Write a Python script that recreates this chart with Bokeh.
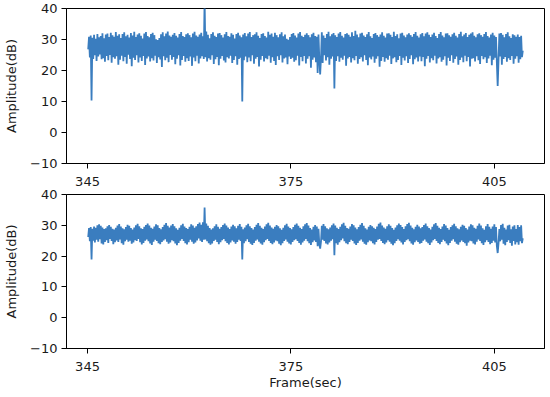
import numpy as np
from bokeh.plotting import figure
from bokeh.layouts import column
from bokeh.models import FixedTicker, CustomJSTickFormatter, Range1d
from bokeh.embed import file_html
from bokeh.resources import INLINE

# time span of the recording (seconds)
t_start, t_end = 345.1, 409.2

# upper panel amplitude samples (dB)
amp_top = [
    26.8, 30.9, 24.2, 31.3, 10.3, 30.6, 23.7, 31.5, 24.9, 30.2, 23.1, 31.8, 24.5, 30.7, 25.2, 31.1, 23.6, 32.0, 24.0, 30.4,
    22.8, 31.6, 24.7, 31.9, 23.3, 30.8, 25.0, 32.2, 22.5, 31.4, 24.3, 30.9, 23.8, 32.4, 24.6, 31.2, 21.9, 31.7, 23.5, 30.5,
    24.8, 31.8, 23.0, 32.3, 24.4, 31.0, 22.2, 31.5, 25.1, 30.6, 23.7, 32.1, 21.4, 31.3, 24.1, 32.5, 23.4, 30.8, 24.9, 31.6,
    22.6, 32.0, 24.2, 31.2, 23.1, 30.3, 24.7, 31.9, 21.8, 32.4, 23.9, 31.1, 24.5, 30.7, 22.9, 31.8, 24.0, 32.2, 23.2, 31.4,
    24.8, 30.1, 22.4, 29.8, 24.3, 30.5, 23.6, 31.7, 21.1, 32.3, 24.6, 31.0, 23.3, 31.9, 24.1, 32.6, 22.7, 31.3, 25.0, 30.9,
    23.5, 31.5, 24.4, 32.1, 22.0, 31.2, 23.8, 30.6, 24.9, 31.8, 21.6, 32.4, 23.4, 31.1, 24.7, 30.8, 22.8, 31.7, 24.0, 32.0,
    23.1, 31.4, 24.5, 30.7, 21.5, 31.9, 24.2, 32.5, 23.0, 31.3, 24.8, 30.9, 22.3, 31.6, 23.9, 32.2, 24.6, 31.0, 23.7, 43.0,
    24.3, 32.6, 22.9, 31.5, 24.0, 30.4, 23.5, 31.8, 24.9, 32.3, 22.1, 31.2, 23.6, 30.8, 24.4, 31.9, 21.7, 32.1, 23.8, 31.4,
    24.7, 30.6, 23.2, 31.7, 22.6, 32.4, 24.3, 31.1, 23.9, 30.9, 24.8, 32.0, 22.4, 31.5, 23.4, 30.3, 24.6, 31.8, 21.9, 32.2,
    23.7, 31.3, 24.1, 30.7, 10.0, 31.6, 23.3, 32.1, 24.5, 31.0, 22.7, 31.9, 24.2, 32.4, 23.0, 30.8, 24.9, 31.4, 22.2, 31.7,
    23.8, 32.3, 24.4, 31.2, 21.3, 30.5, 23.5, 31.8, 24.7, 32.0, 22.9, 31.1, 24.0, 30.6, 23.6, 32.5, 24.8, 31.5, 22.5, 31.9,
    24.3, 30.9, 23.1, 32.2, 21.8, 31.4, 24.6, 30.7, 23.4, 31.7, 24.9, 32.3, 22.6, 31.0, 23.9, 31.6, 24.2, 30.2, 22.0, 29.9,
    24.5, 30.8, 23.7, 31.8, 24.1, 32.1, 22.8, 31.3, 23.3, 30.6, 24.8, 31.9, 21.6, 32.4, 24.4, 31.2, 23.0, 30.8, 24.7, 31.5,
    22.3, 32.0, 23.8, 31.4, 24.6, 30.7, 20.9, 31.7, 23.5, 32.2, 24.2, 31.1, 22.7, 30.9, 19.2, 31.6, 23.6, 18.7, 24.0, 32.3,
    22.4, 31.3, 24.9, 30.5, 23.2, 31.8, 24.3, 32.5, 21.9, 31.0, 23.8, 31.7, 24.5, 32.1, 14.2, 31.4, 23.1, 30.8, 24.6, 31.9,
    22.8, 32.4, 24.1, 31.2, 23.5, 30.6, 24.8, 31.8, 21.5, 32.0, 23.9, 31.5, 24.4, 30.9, 22.6, 32.3, 24.0, 31.1, 23.3, 32.8,
    24.7, 31.6, 22.2, 30.7, 23.7, 31.9, 24.3, 32.2, 22.9, 31.3, 24.9, 30.8, 23.4, 31.7, 21.7, 32.4, 24.2, 31.0, 23.6, 30.5,
    24.5, 31.8, 22.5, 32.1, 23.8, 31.4, 24.6, 30.9, 21.2, 31.6, 23.1, 32.3, 24.4, 31.2, 22.8, 30.6, 24.0, 31.9, 23.5, 32.0,
    24.8, 31.5, 22.1, 30.8, 23.9, 32.5, 24.3, 31.1, 22.7, 31.7, 23.4, 30.4, 24.7, 31.9, 21.8, 32.2, 24.1, 31.3, 23.2, 30.7,
    24.6, 31.6, 22.4, 32.0, 23.7, 31.4, 24.9, 30.9, 22.0, 31.8, 23.6, 32.4, 24.2, 31.2, 22.9, 30.6, 24.5, 31.7, 23.0, 32.1,
    24.4, 31.0, 21.4, 31.9, 23.8, 32.3, 24.7, 31.5, 22.6, 30.8, 24.0, 31.6, 23.3, 32.2, 24.8, 31.1, 22.3, 30.5, 23.9, 31.8,
    24.3, 32.4, 22.8, 31.3, 23.5, 30.7, 24.6, 31.9, 21.6, 32.0, 24.1, 31.4, 23.1, 30.9, 24.9, 31.7, 22.5, 32.2, 23.7, 31.2,
    24.5, 30.6, 21.9, 31.8, 23.4, 32.5, 24.2, 31.0, 22.7, 31.6, 24.8, 32.1, 23.0, 30.8, 24.4, 31.5, 21.3, 31.9, 23.8, 32.3,
    24.0, 31.2, 22.9, 30.7, 24.6, 31.7, 23.3, 32.0, 22.1, 31.4, 24.7, 30.9, 23.6, 31.8, 24.3, 32.4, 22.4, 31.1, 23.9, 30.6,
    24.8, 31.6, 21.7, 32.2, 23.5, 31.3, 24.1, 30.8, 22.6, 15.0, 23.2, 31.9, 24.5, 32.1, 21.9, 31.5, 23.7, 30.7, 24.4, 31.8,
    22.8, 32.3, 24.0, 31.0, 23.4, 30.5, 24.7, 31.7, 22.2, 31.4, 23.8, 30.9, 24.6, 31.6, 22.5, 30.8, 23.6, 31.2, 24.3, 26.4,
]

# lower panel amplitude samples (dB)
amp_bottom = [
    26.2, 29.1, 24.8, 29.4, 18.9, 28.9, 25.0, 29.6, 24.4, 29.2, 25.3, 30.0, 24.7, 30.3, 25.5, 29.8, 24.1, 29.3, 23.8, 28.8,
    24.6, 29.0, 25.2, 29.7, 24.3, 30.1, 25.6, 29.5, 24.9, 28.9, 23.9, 28.6, 24.5, 29.2, 25.1, 29.9, 24.6, 30.4, 25.4, 29.6,
    24.2, 29.0, 23.7, 28.7, 24.8, 29.4, 25.3, 30.2, 24.7, 29.8, 25.0, 29.1, 24.0, 28.6, 24.4, 29.3, 25.2, 30.0, 24.9, 30.5,
    25.6, 29.7, 24.5, 29.0, 23.8, 28.8, 24.3, 29.5, 25.0, 30.1, 25.4, 30.6, 24.8, 29.9, 24.1, 29.2, 23.6, 28.9, 24.7, 29.6,
    25.3, 30.3, 24.9, 30.0, 24.2, 29.1, 23.9, 28.7, 24.6, 29.4, 25.1, 30.2, 25.5, 30.7, 24.7, 29.8, 24.0, 29.3, 24.4, 29.9,
    25.2, 30.4, 24.8, 29.7, 24.1, 29.0, 23.5, 28.5, 24.3, 29.2, 25.0, 30.0, 25.6, 30.5, 24.9, 29.6, 24.2, 29.1, 23.8, 28.8,
    24.5, 29.5, 25.3, 30.3, 24.7, 29.9, 24.0, 29.2, 24.4, 29.7, 25.1, 30.4, 25.7, 30.9, 25.0, 30.2, 24.6, 31.0, 25.3, 35.8,
    25.4, 30.6, 24.8, 29.8, 24.2, 29.1, 23.7, 28.6, 24.1, 29.0, 24.9, 29.7, 25.3, 30.3, 24.6, 29.5, 23.9, 28.9, 24.5, 29.4,
    25.2, 30.1, 25.6, 30.6, 24.8, 29.9, 24.3, 29.3, 23.8, 28.8, 24.4, 29.6, 25.1, 30.2, 24.7, 29.7, 24.0, 29.0, 24.6, 29.8,
    25.3, 30.4, 24.9, 29.5, 18.9, 28.7, 24.2, 29.3, 24.8, 30.0, 25.5, 30.5, 24.6, 29.7, 24.0, 29.1, 23.6, 28.6, 24.3, 29.4,
    25.0, 30.2, 25.4, 30.7, 24.7, 29.8, 24.1, 29.2, 23.7, 28.8, 24.5, 29.6, 25.2, 30.3, 25.6, 30.8, 24.9, 29.9, 24.3, 29.3,
    23.9, 28.9, 24.4, 29.5, 25.1, 30.1, 24.8, 29.7, 24.0, 29.0, 23.5, 28.5, 24.2, 29.2, 24.9, 30.0, 25.4, 30.5, 24.7, 29.6,
    24.1, 29.1, 23.8, 28.7, 24.6, 29.4, 25.2, 30.2, 25.5, 30.6, 24.9, 29.8, 24.3, 29.2, 23.7, 28.8, 24.4, 29.7, 25.0, 30.3,
    25.6, 30.7, 24.8, 29.9, 24.2, 29.1, 23.6, 28.6, 24.5, 29.5, 25.1, 30.1, 24.6, 29.6, 23.2, 28.9, 24.0, 22.4, 24.7, 29.8,
    25.3, 30.4, 24.9, 29.7, 24.1, 29.0, 23.8, 28.7, 24.4, 29.3, 25.0, 30.0, 25.5, 30.6, 20.3, 29.9, 24.2, 29.2, 23.7, 28.8,
    24.5, 29.5, 25.2, 30.3, 25.7, 30.8, 24.8, 29.8, 24.2, 29.1, 23.9, 28.9, 24.6, 29.6, 25.3, 30.4, 24.9, 30.0, 24.1, 29.3,
    23.6, 28.7, 24.3, 29.4, 25.0, 30.2, 25.4, 30.7, 24.7, 29.8, 24.0, 29.0, 23.7, 28.6, 24.5, 29.5, 25.1, 30.1, 24.8, 29.7,
    24.2, 29.2, 23.8, 28.8, 24.6, 29.6, 25.3, 30.5, 25.6, 30.9, 24.9, 29.9, 24.3, 29.3, 23.9, 28.9, 24.4, 29.7, 25.2, 30.3,
    24.7, 29.8, 24.0, 29.1, 23.5, 28.5, 24.2, 29.3, 24.9, 30.0, 25.5, 30.6, 25.0, 30.1, 24.4, 29.4, 23.8, 28.8, 24.6, 29.7,
    25.2, 30.4, 25.5, 30.8, 24.8, 29.9, 24.1, 29.2, 23.7, 28.7, 24.5, 29.5, 25.1, 30.2, 24.6, 29.6, 24.0, 29.0, 24.3, 29.4,
    25.0, 30.1, 25.4, 30.6, 24.7, 29.7, 24.2, 29.1, 23.6, 28.6, 24.4, 29.5, 25.2, 30.3, 25.6, 30.7, 24.9, 29.8, 24.3, 29.2,
    23.9, 28.8, 24.6, 29.6, 25.3, 30.4, 24.8, 29.9, 24.1, 29.1, 23.5, 28.5, 24.3, 29.4, 25.0, 30.0, 25.5, 30.5, 24.7, 29.7,
    24.0, 29.0, 23.7, 28.7, 24.5, 29.5, 25.1, 30.2, 24.6, 29.8, 24.2, 29.1, 23.4, 28.6, 24.4, 29.6, 25.0, 30.3, 24.8, 30.0,
    24.1, 29.2, 23.8, 28.9, 24.7, 29.8, 25.4, 30.6, 24.9, 29.9, 24.2, 29.0, 23.6, 28.5, 24.5, 29.7, 25.2, 30.4, 24.6, 29.5,
    23.9, 28.9, 24.3, 29.6, 25.0, 30.3, 24.4, 29.4, 23.3, 21.0, 24.1, 28.8, 24.8, 30.1, 25.3, 30.5, 24.0, 29.2, 23.5, 28.6,
    24.6, 29.9, 25.2, 30.2, 24.3, 28.7, 23.4, 29.6, 24.9, 30.0, 23.8, 28.8, 24.5, 30.1, 23.7, 29.4, 24.8, 30.0, 24.2, 25.8,
]

x_ticks = [345, 375, 405]
y_ticks = [-10, 0, 10, 20, 30, 40]

LINE_COLOR = "#3a7dbf"
FONT = "DejaVu Sans"
TEXT = "#1a1a1a"


def make_fig(values, height, border_top, border_bottom, xlabel):
    t = np.linspace(t_start, t_end, len(values))
    p = figure(width=550, height=height, output_backend="svg", toolbar_location=None,
               x_range=Range1d(341.9, 412.4), y_range=Range1d(-10, 40),
               min_border_left=66, min_border_right=6, min_border_top=border_top,
               min_border_bottom=border_bottom)
    p.line(t, values, line_color=LINE_COLOR, line_width=1.8)
    p.xgrid.visible = False
    p.ygrid.visible = False
    p.outline_line_color = "#000000"
    p.outline_line_width = 1
    p.background_fill_color = "white"
    p.border_fill_color = "white"
    p.xaxis.ticker = FixedTicker(ticks=x_ticks)
    p.yaxis.ticker = FixedTicker(ticks=y_ticks)
    p.yaxis.formatter = CustomJSTickFormatter(
        code="return tick < 0 ? '\\u2212' + (-tick) : '' + tick;")
    for ax in (p.xaxis[0], p.yaxis[0]):
        ax.minor_tick_line_color = None
        ax.major_tick_out = 5
        ax.major_tick_in = 0
        ax.major_tick_line_color = "#000000"
        ax.axis_line_color = "#000000"
        ax.major_label_text_font = FONT
        ax.major_label_text_font_size = "13px"
        ax.major_label_text_color = TEXT
        ax.axis_label_text_font = FONT
        ax.axis_label_text_font_size = "13px"
        ax.axis_label_text_font_style = "normal"
        ax.axis_label_text_color = TEXT
    p.xaxis.major_label_standoff = 8
    p.yaxis.major_label_standoff = 4
    p.yaxis.axis_label = "Amplitude(dB)"
    p.yaxis.axis_label_standoff = 8
    if xlabel:
        p.xaxis.axis_label = xlabel
        p.xaxis.axis_label_standoff = 1
    return p


p1 = make_fig(amp_top, 188, 8, 25, None)
p2 = make_fig(amp_bottom, 209, 6, 49, "Frame(sec)")

layout = column(p1, p2, spacing=0)
open("out.html", "w").write(file_html(layout, INLINE))
